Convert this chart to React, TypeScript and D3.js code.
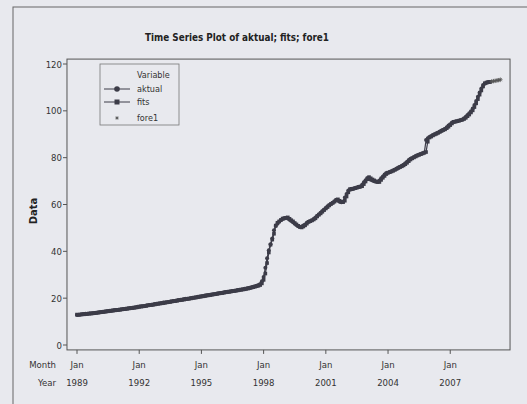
import React from "react";
import * as d3 from "d3";

// ---- data (monthly, Jan 1989 – Dec 2008) ----
const aktual: number[] = [
  12.8,12.9,13.0,13.1,13.2,13.3,13.3,13.4,13.5,13.6,13.7,13.8,
  13.9,14.0,14.1,14.2,14.3,14.4,14.5,14.6,14.7,14.8,14.9,15.0,
  15.1,15.2,15.3,15.4,15.5,15.6,15.7,15.8,15.9,16.0,16.1,16.3,
  16.4,16.5,16.6,16.7,16.9,17.0,17.1,17.2,17.3,17.5,17.6,17.7,
  17.8,17.9,18.1,18.2,18.3,18.4,18.6,18.7,18.8,18.9,19.1,19.2,
  19.3,19.4,19.6,19.7,19.8,19.9,20.1,20.2,20.3,20.4,20.6,20.7,
  20.8,20.9,21.1,21.2,21.3,21.5,21.6,21.7,21.8,22.0,22.1,22.2,
  22.3,22.5,22.6,22.7,22.8,23.0,23.1,23.2,23.3,23.5,23.6,23.7,
  23.8,24.0,24.1,24.3,24.5,24.7,24.9,25.1,25.3,25.6,26.1,27.2,
  29.0,33.0,37.0,40.5,43.0,45.5,49.0,50.8,51.8,52.6,53.3,53.8,
  54.0,54.3,54.0,53.5,53.0,52.4,51.8,51.2,50.7,50.4,50.6,51.0,
  51.5,52.2,52.6,52.9,53.3,53.8,54.5,55.2,55.8,56.5,57.2,57.9,
  58.5,59.2,59.8,60.3,60.8,61.4,62.0,61.6,61.2,61.0,61.3,63.0,
  64.5,66.0,66.3,66.5,66.7,67.0,67.3,67.5,67.6,68.4,69.5,70.4,
  71.3,71.0,70.6,70.2,69.9,69.7,69.6,70.3,71.2,72.0,72.8,73.4,
  73.6,73.9,74.2,74.6,75.0,75.4,75.8,76.1,76.5,77.0,77.6,78.3,
  79.0,79.5,79.9,80.3,80.7,81.0,81.3,81.6,81.9,82.2,87.5,88.3,
  88.8,89.3,89.7,90.0,90.4,90.8,91.2,91.6,91.9,92.4,93.0,93.7,
  94.3,95.0,95.2,95.4,95.6,95.8,96.0,96.3,96.8,97.5,98.2,99.0,
  99.8,101.0,102.5,104.2,106.0,107.8,109.5,111.0,111.6,112.0,112.2,112.3,
];

const fits: number[] = [
  13.0,12.9,13.0,13.1,13.1,13.2,13.3,13.4,13.5,13.5,13.6,13.7,
  13.8,13.9,14.0,14.1,14.2,14.3,14.4,14.5,14.6,14.7,14.8,14.9,
  15.0,15.1,15.2,15.3,15.4,15.5,15.6,15.7,15.8,15.9,16.0,16.1,
  16.3,16.4,16.5,16.6,16.7,16.9,17.0,17.1,17.2,17.3,17.5,17.6,
  17.7,17.8,17.9,18.1,18.2,18.3,18.4,18.6,18.7,18.8,18.9,19.1,
  19.2,19.3,19.4,19.6,19.7,19.8,19.9,20.1,20.2,20.3,20.4,20.6,
  20.7,20.8,20.9,21.1,21.2,21.3,21.5,21.6,21.7,21.8,22.0,22.1,
  22.2,22.3,22.5,22.6,22.7,22.8,23.0,23.1,23.2,23.3,23.5,23.6,
  23.7,23.8,24.0,24.1,24.3,24.5,24.7,24.9,25.1,25.3,25.6,26.3,
  27.8,30.5,35.0,39.5,42.8,45.0,47.5,51.0,52.2,52.8,53.4,54.0,
  54.2,54.3,54.5,53.9,53.3,52.8,52.1,51.5,50.9,50.4,50.2,50.6,
  51.1,51.8,52.6,52.9,53.2,53.6,54.1,54.9,55.6,56.2,56.9,57.6,
  58.3,58.9,59.6,60.2,60.7,61.2,61.8,62.2,61.6,61.1,61.0,61.6,
  63.4,65.2,66.6,66.7,66.8,67.0,67.2,67.5,67.7,67.8,68.7,69.8,
  70.8,71.7,71.2,70.7,70.3,69.9,69.7,69.6,70.5,71.4,72.2,73.0,
  73.6,73.8,74.1,74.4,74.8,75.2,75.6,76.0,76.3,76.7,77.2,77.8,
  78.5,79.2,79.7,80.1,80.5,80.9,81.2,81.5,81.8,82.1,82.4,86.8,
  88.6,89.0,89.5,89.9,90.2,90.6,91.0,91.4,91.8,92.1,92.6,93.2,
  93.9,94.6,95.3,95.4,95.6,95.8,96.0,96.2,96.5,97.0,97.7,98.4,
  99.3,100.2,101.6,103.2,105.0,106.9,108.7,110.4,111.8,112.1,112.3,112.4,
];

// forecasts Jan–Jun 2009
const fore1: number[] = [112.5, 112.7, 112.8, 113.0, 113.1, 113.3];

const yTicks: number[] = [0, 20, 40, 60, 80, 100, 120];
const xTickIndex: number[] = [0, 36, 72, 108, 144, 180, 216];
const xTickMonth: string[] = ["Jan", "Jan", "Jan", "Jan", "Jan", "Jan", "Jan"];
const xTickYear: string[] = ["1989", "1992", "1995", "1998", "2001", "2004", "2007"];
const legendItems: string[] = ["aktual", "fits", "fore1"];

const W = 527;
const H = 404;
const BG = "#e8e9ee";
const INK = "#3c3c48";
const FONT = "'DejaVu Sans Condensed', 'Liberation Sans', Arial, sans-serif";

export default function App() {
  const x = d3.scaleLinear().domain([0, 239]).range([77, 77 + 239 * 1.728]);
  const y = d3.scaleLinear().domain([0, 120]).range([345, 64]);
  const left = x(-5.8);
  const right = x(250.6);
  const top = y(122.1);
  const bottom = y(-2.1);

  const line = d3
    .line<[number, number]>()
    .x((d) => x(d[0]))
    .y((d) => y(d[1]));

  const aPts: [number, number][] = aktual.map((v, i) => [i, v]);
  const fPts: [number, number][] = fits.map((v, i) => [i, v]);
  const fcPts: [number, number][] = fore1.map((v, i) => [aktual.length + i, v]);

  const star = (cx: number, cy: number, key: string | number, s = 2.2) => (
    <g key={key} stroke="#555" strokeWidth={0.8} fill="none">
      <line x1={cx - s} y1={cy} x2={cx + s} y2={cy} />
      <line x1={cx} y1={cy - s} x2={cx} y2={cy + s} />
      <line x1={cx - s * 0.7} y1={cy - s * 0.7} x2={cx + s * 0.7} y2={cy + s * 0.7} />
      <line x1={cx - s * 0.7} y1={cy + s * 0.7} x2={cx + s * 0.7} y2={cy - s * 0.7} />
    </g>
  );

  const lgX = 100, lgY = 64, lgW = 79, lgH = 61;
  const lgRows = [89, 102, 118];

  return (
    <div style={{ position: "fixed", left: 0, top: 0 }}>
      <svg width={W} height={H} style={{ display: "block", background: BG }} fontFamily={FONT}>
        <rect x={0} y={0} width={W} height={H} fill={BG} />
        {/* outer frame */}
        <rect x={13} y={7} width={W + 20} height={H + 20} fill="none" stroke="#666" strokeWidth={1} />
        {/* title */}
        <text
          x={237}
          y={41}
          textAnchor="middle"
          fontSize={11}
          fontWeight="bold"
          fill="#222"
          textLength={184}
          lengthAdjust="spacingAndGlyphs"
        >
          Time Series Plot of aktual; fits; fore1
        </text>
        {/* plot area */}
        <rect x={left} y={top} width={right - left} height={bottom - top} fill="none" stroke="#555" strokeWidth={1} />

        {/* y axis */}
        {yTicks.map((t) => (
          <g key={"y" + t}>
            <line x1={left - 4} x2={left} y1={y(t)} y2={y(t)} stroke="#555" />
            <text x={left - 5} y={y(t) + 3.5} textAnchor="end" fontSize={9.5} fill="#333">
              {t}
            </text>
          </g>
        ))}
        <text
          transform={`translate(37,${211}) rotate(-90)`}
          textAnchor="middle"
          fontSize={11}
          fontWeight="bold"
          fill="#222"
        >
          Data
        </text>

        {/* x axis */}
        {xTickIndex.map((t, i) => (
          <g key={"x" + t}>
            <line x1={x(t)} x2={x(t)} y1={bottom} y2={bottom + 4} stroke="#555" />
            <text x={x(t)} y={368} textAnchor="middle" fontSize={9.5} fill="#333">
              {xTickMonth[i]}
            </text>
            <text x={x(t)} y={386} textAnchor="middle" fontSize={9.5} fill="#333">
              {xTickYear[i]}
            </text>
          </g>
        ))}
        <text x={56} y={368} textAnchor="end" fontSize={9.5} fill="#333">Month</text>
        <text x={56} y={386} textAnchor="end" fontSize={9.5} fill="#333">Year</text>

        {/* series */}
        <path d={line(fPts) || ""} fill="none" stroke={INK} strokeWidth={1.2} />
        {fPts.map((p, i) => (
          <rect key={"f" + i} x={x(p[0]) - 1.8} y={y(p[1]) - 1.8} width={3.6} height={3.6} fill={INK} />
        ))}
        <path d={line(aPts) || ""} fill="none" stroke={INK} strokeWidth={1.2} />
        {aPts.map((p, i) => (
          <circle key={"a" + i} cx={x(p[0])} cy={y(p[1])} r={2} fill={INK} />
        ))}
        {fcPts.map((p, i) => star(x(p[0]), y(p[1]), "s" + i))}

        {/* legend */}
        <rect x={lgX} y={lgY} width={lgW} height={lgH} fill={BG} stroke="#777" strokeWidth={0.8} />
        <text x={137} y={78} fontSize={9} fill="#333">Variable</text>
        {legendItems.map((name, i) => (
          <g key={name}>
            {i < 2 && <line x1={104} x2={130} y1={lgRows[i]} y2={lgRows[i]} stroke={INK} strokeWidth={1} />}
            {i === 0 && <circle cx={117} cy={lgRows[i]} r={2.8} fill={INK} />}
            {i === 1 && <rect x={114.5} y={lgRows[i] - 2.5} width={5} height={5} fill={INK} />}
            {i === 2 && star(117, lgRows[i], "ls", 1.8)}
            <text x={137} y={lgRows[i] + 3} fontSize={9} fill="#333">{name}</text>
          </g>
        ))}
      </svg>
    </div>
  );
}
